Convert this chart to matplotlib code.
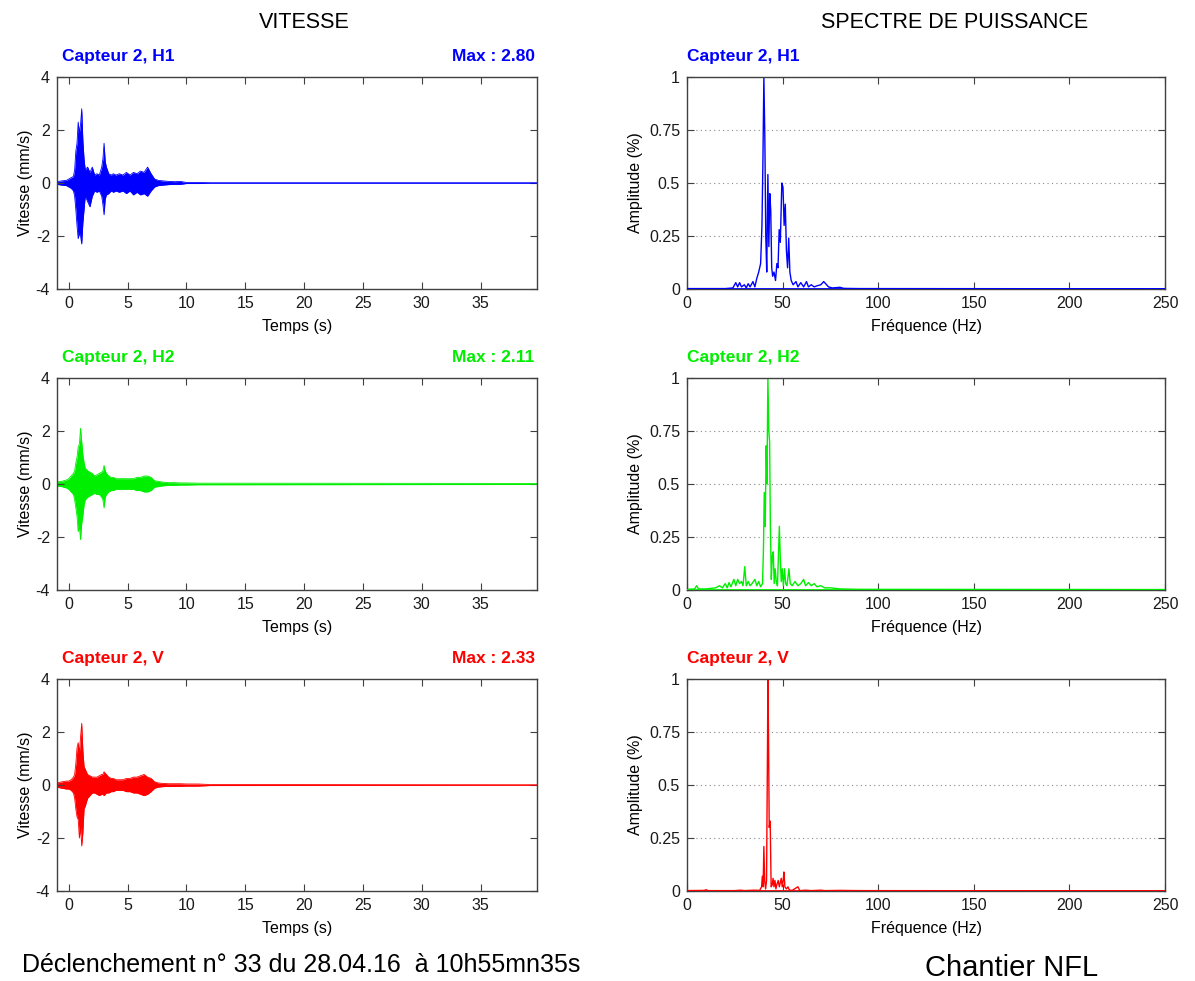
import matplotlib
matplotlib.use('Agg')
import matplotlib.pyplot as plt
import numpy as np

plt.rcParams['font.family'] = ['Liberation Sans', 'DejaVu Sans']
plt.rcParams['axes.unicode_minus'] = False

# --- donnees ---
voies = ['Capteur 2, H1', 'Capteur 2, H2', 'Capteur 2, V']
couleurs = ['#0000ff', '#00ee00', '#ff0000']
max_vit = ['2.80', '2.11', '2.33']

# vitesse : enveloppe haute / basse (mm/s) en fonction du temps (s)
t_vit = [-1.0, -0.6, -0.2, 0.0, 0.2, 0.4, 0.5, 0.6, 0.7, 0.8, 0.9, 1.0, 1.1, 1.2, 1.3,
         1.4, 1.6, 1.8, 2.0, 2.2, 2.4, 2.6, 2.8, 2.9, 3.0, 3.1, 3.2, 3.4, 3.6, 3.8,
         4.0, 4.3, 4.6, 4.9, 5.2, 5.5, 5.8, 6.1, 6.4, 6.7, 7.0, 7.3, 7.6, 8.0, 8.5,
         9.0, 9.5, 10.0, 11.0, 12.0, 40.0]

h1_haut = [0.05, 0.08, 0.1, 0.15, 0.2, 0.25, 0.5, 1.2, 1.5, 2.3, 1.9, 2.2, 2.8, 1.6, 0.9,
           0.5, 0.6, 0.4, 0.6, 0.3, 0.35, 0.3, 0.6, 0.9, 1.5, 0.8, 0.6, 0.35, 0.3, 0.35,
           0.3, 0.35, 0.3, 0.4, 0.3, 0.4, 0.35, 0.45, 0.4, 0.6, 0.35, 0.15, 0.1, 0.08, 0.06,
           0.05, 0.06, 0.02, 0.02, 0.01, 0.01]
h1_bas = [-0.05, -0.08, -0.1, -0.15, -0.2, -0.3, -0.5, -1.0, -1.6, -2.1, -1.9, -2.0, -2.3, -1.5, -1.0,
          -0.5, -0.7, -0.9, -0.5, -0.3, -0.35, -0.3, -0.5, -0.8, -1.2, -0.6, -0.45, -0.4, -0.3, -0.35,
          -0.3, -0.35, -0.3, -0.4, -0.3, -0.45, -0.35, -0.45, -0.4, -0.5, -0.3, -0.15, -0.1, -0.08, -0.06,
          -0.05, -0.05, -0.02, -0.02, -0.01, -0.01]

h2_haut = [0.08, 0.1, 0.15, 0.2, 0.3, 0.4, 0.5, 0.8, 1.0, 1.4, 1.5, 2.1, 1.6, 1.1, 0.8,
           0.6, 0.5, 0.45, 0.4, 0.3, 0.35, 0.4, 0.45, 0.5, 0.7, 0.5, 0.4, 0.3, 0.25, 0.25,
           0.2, 0.2, 0.2, 0.2, 0.2, 0.2, 0.25, 0.25, 0.3, 0.3, 0.25, 0.12, 0.1, 0.07, 0.05,
           0.05, 0.04, 0.04, 0.03, 0.03, 0.02]
h2_bas = [-0.08, -0.1, -0.15, -0.2, -0.3, -0.4, -0.6, -0.9, -1.2, -1.8, -1.6, -2.1, -1.5, -1.2, -0.8,
          -0.6, -0.5, -0.45, -0.4, -0.35, -0.4, -0.4, -0.5, -0.6, -0.9, -0.5, -0.4, -0.3, -0.25, -0.25,
          -0.2, -0.2, -0.2, -0.2, -0.2, -0.2, -0.25, -0.25, -0.3, -0.3, -0.25, -0.12, -0.1, -0.07, -0.05,
          -0.05, -0.04, -0.04, -0.03, -0.03, -0.02]

v_haut = [0.08, 0.12, 0.15, 0.15, 0.2, 0.3, 0.4, 0.8, 1.4, 1.6, 1.2, 1.8, 2.33, 1.3, 0.7,
          0.6, 0.4, 0.35, 0.3, 0.3, 0.3, 0.35, 0.4, 0.4, 0.5, 0.45, 0.4, 0.3, 0.25, 0.25,
          0.2, 0.2, 0.2, 0.25, 0.25, 0.3, 0.3, 0.35, 0.4, 0.3, 0.25, 0.12, 0.08, 0.06, 0.05,
          0.05, 0.05, 0.04, 0.04, 0.02, 0.01]
v_bas = [-0.08, -0.12, -0.15, -0.15, -0.2, -0.3, -0.5, -0.9, -1.2, -1.3, -2.0, -1.6, -2.3, -1.8, -0.9,
         -0.8, -0.5, -0.4, -0.3, -0.3, -0.35, -0.4, -0.35, -0.35, -0.4, -0.35, -0.3, -0.3, -0.25, -0.25,
         -0.2, -0.2, -0.2, -0.25, -0.25, -0.3, -0.3, -0.35, -0.4, -0.35, -0.25, -0.12, -0.08, -0.06, -0.05,
         -0.05, -0.05, -0.04, -0.04, -0.02, -0.01]

# spectre de puissance : frequence (Hz) / amplitude normalisee
f_h1 = [0, 20, 24, 25.5, 26.5, 27.5, 28.5, 30, 31, 32, 33, 34.5, 35.5, 36.5, 37.5, 38.5,
        39.2, 39.7, 40.2, 40.7, 41.2, 41.7, 42.3, 42.8, 43.3, 43.8, 44.3, 44.8, 45.5, 46.3,
        47, 47.6, 48.2, 48.8, 49.6, 50.2, 50.8, 51.4, 52, 52.6, 53.2, 53.8, 54.5, 55.5, 57,
        58, 59.5, 61, 62.5, 63.5, 65, 66.5, 68, 70, 71.5, 73, 74, 76, 80, 82, 90, 250]
a_h1 = [0.002, 0.002, 0.005, 0.03, 0.01, 0.03, 0.01, 0.02, 0.005, 0.025, 0.01, 0.035, 0.01, 0.05, 0.08, 0.12,
        0.3, 0.6, 1.0, 0.72, 0.25, 0.08, 0.54, 0.2, 0.45, 0.37, 0.1, 0.06, 0.08, 0.04,
        0.12, 0.1, 0.28, 0.22, 0.5, 0.48, 0.3, 0.4, 0.18, 0.1, 0.24, 0.08, 0.04, 0.02, 0.035,
        0.01, 0.03, 0.01, 0.035, 0.01, 0.02, 0.01, 0.015, 0.02, 0.035, 0.02, 0.01, 0.005, 0.008, 0.003, 0.002, 0.001]

f_h2 = [0, 4, 5, 6, 10, 15, 17, 18.5, 20, 21, 22, 23, 24.5, 25.5, 26.5, 27.5, 28.5, 29.3,
        30.2, 31, 32, 33, 34, 35.5, 36.5, 37.5, 38.5, 39.5, 40, 40.4, 40.9, 41.4, 41.8, 42.3,
        42.8, 43.2, 43.6, 44.1, 44.6, 45.1, 45.6, 46.1, 46.7, 47.3, 48.3, 48.8, 49.3, 49.8,
        50.4, 51, 51.6, 52.3, 53.3, 54, 55, 56.5, 58, 59.5, 61, 62, 63.5, 65, 66.5, 68, 70,
        72, 75, 80, 90, 250]
a_h2 = [0.003, 0.005, 0.02, 0.005, 0.005, 0.01, 0.02, 0.01, 0.03, 0.01, 0.035, 0.015, 0.05, 0.02, 0.05, 0.03, 0.04, 0.02,
        0.11, 0.02, 0.04, 0.02, 0.03, 0.05, 0.02, 0.04, 0.015, 0.03, 0.2, 0.46, 0.3, 0.68, 0.5, 1.0,
        0.75, 0.7, 0.3, 0.05, 0.16, 0.18, 0.03, 0.1, 0.04, 0.02, 0.3, 0.15, 0.04, 0.1,
        0.02, 0.1, 0.03, 0.02, 0.1, 0.03, 0.02, 0.04, 0.02, 0.03, 0.05, 0.02, 0.035, 0.02, 0.03, 0.015, 0.02,
        0.01, 0.01, 0.005, 0.003, 0.002]

f_v = [0, 9, 10, 11, 25, 28, 30, 35, 38, 39, 39.4, 39.8, 40.2, 40.6, 41.1, 41.6, 42.1, 42.3,
       42.6, 43, 43.5, 44, 44.6, 45, 45.5, 46, 46.5, 47, 47.7, 48.3, 48.8, 49.3, 49.8, 50.3,
       50.7, 51.2, 52, 52.8, 53.5, 55, 58, 59, 62, 65, 70, 72, 80, 90, 250]
a_v = [0.002, 0.003, 0.006, 0.002, 0.002, 0.004, 0.002, 0.004, 0.003, 0.02, 0.07, 0.02, 0.21, 0.05, 0.01, 0.05, 0.68, 1.0,
       0.76, 0.3, 0.33, 0.02, 0.03, 0.06, 0.02, 0.05, 0.01, 0.03, 0.05, 0.02, 0.04, 0.06, 0.02, 0.05,
       0.09, 0.02, 0.01, 0.02, 0.005, 0.003, 0.02, 0.002, 0.004, 0.002, 0.004, 0.002, 0.003, 0.002, 0.001]

vit_haut = [h1_haut, h2_haut, v_haut]
vit_bas = [h1_bas, h2_bas, v_bas]
spec_f = [f_h1, f_h2, f_v]
spec_a = [a_h1, a_h2, a_v]

fig = plt.figure(figsize=(11.95, 9.81), dpi=100)

gris = '#404040'
bas_lignes = [0.7054, 0.3986, 0.0917]
haut_ax = 0.2161


def style_axe(ax):
    for s in ax.spines.values():
        s.set_color(gris)
        s.set_linewidth(1.0)
    ax.tick_params(direction='in', top=True, right=True, length=5, width=0.8,
                   colors=gris, labelcolor='#1a1a1a', labelsize=11.5, pad=5)


for i in range(3):
    c = couleurs[i]
    # vitesse
    ax = fig.add_axes([0.0477, bas_lignes[i], 0.4017, haut_ax])
    ax.fill_between(t_vit, vit_bas[i], vit_haut[i], color=c, lw=0)
    ax.plot(t_vit, vit_haut[i], color=c, lw=0.6)
    ax.plot(t_vit, vit_bas[i], color=c, lw=0.6)
    ax.set_xlim(-1, 39.8)
    ax.set_ylim(-4, 4)
    ax.set_xticks(range(0, 40, 5))
    ax.set_yticks([-4, -2, 0, 2, 4])
    ax.set_xlabel('Temps (s)', fontsize=11.5, labelpad=6)
    ax.set_ylabel('Vitesse (mm/s)', fontsize=11.5, labelpad=2)
    style_axe(ax)
    ax.text(0.01, 1.06, voies[i], transform=ax.transAxes, color=c, fontsize=12.5,
            fontweight='bold', ha='left', va='bottom')
    ax.text(0.995, 1.06, 'Max : ' + max_vit[i], transform=ax.transAxes, color=c,
            fontsize=12.5, fontweight='bold', ha='right', va='bottom')

    # spectre
    ax2 = fig.add_axes([0.5749, bas_lignes[i], 0.4, haut_ax])
    ax2.plot(spec_f[i], spec_a[i], color=c, lw=1.0)
    ax2.axhline(0, color=c, lw=2.0, zorder=3)
    ax2.set_xlim(0, 250)
    ax2.set_ylim(0, 1)
    ax2.set_xticks([0, 50, 100, 150, 200, 250])
    ax2.set_yticks([0, 0.25, 0.5, 0.75, 1])
    ax2.set_yticklabels(['0', '0.25', '0.5', '0.75', '1'])
    ax2.yaxis.grid(True, linestyle=(0, (1, 3)), color='#888888', lw=0.8)
    ax2.set_xlabel('Fréquence (Hz)', fontsize=11.5, labelpad=6)
    ax2.set_ylabel('Amplitude (%)', fontsize=11.5, labelpad=4)
    style_axe(ax2)
    ax2.text(0.0, 1.06, voies[i], transform=ax2.transAxes, color=c, fontsize=12.5,
             fontweight='bold', ha='left', va='bottom')

fig.text(0.2544, 0.977, 'VITESSE', ha='center', va='center', fontsize=15.5)
fig.text(0.799, 0.977, 'SPECTRE DE PUISSANCE', ha='center', va='center', fontsize=15.5)
fig.text(0.018, 0.016, 'Déclenchement n° 33 du 28.04.16  à 10h55mn35s',
         ha='left', va='center', fontsize=18)
fig.text(0.774, 0.013, 'Chantier NFL', ha='left', va='center', fontsize=21)

fig.savefig('out.png', dpi=100)
